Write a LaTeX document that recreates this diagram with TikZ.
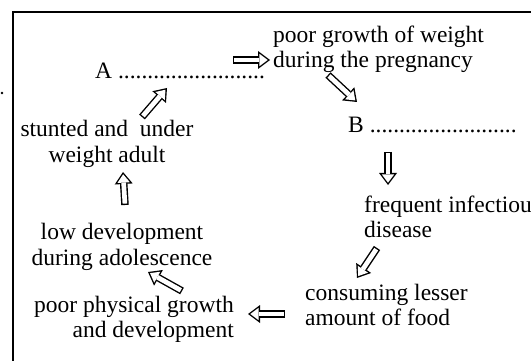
\documentclass[tikz,border=0pt]{standalone}
\usepackage{fontspec}
\setmainfont{Liberation Serif}
\usetikzlibrary{arrows.meta,calc}

\begin{document}
\begin{tikzpicture}[x=1pt, y=-1pt, inner sep=0pt, font=\fontsize{23.5}{25}\selectfont,
  flow/.style={line width=7.5pt, -{Triangle[length=12pt,width=18pt,line width=0pt]},
    postaction={draw=white, line width=4.7pt, shorten <=1.4pt, shorten >=2.3pt,
      -{Triangle[length=8.3pt,width=12.4pt,line width=0pt]}}}]
  \useasboundingbox (0,0) rectangle (531,361);
  \draw[line width=2pt] (13,361) -- (13,12) -- (531,12);
  \fill (2,93) circle (1.3pt);

  \node[anchor=base west] (aline) at (95,79) {A .........................};
  \node[anchor=base west, align=left] (growth) at (273,68) {poor growth of weight\\during the pregnancy};
  \node[anchor=base west] (bline) at (348,132) {B .........................};
  \node[anchor=base west, align=left] (infect) at (364,237) {frequent infectious\\disease};
  \node[anchor=base west, align=left] (food) at (305,325) {consuming lesser\\amount of food};
  \node[anchor=base east, align=right] (physical) at (234,337) {poor physical growth\\and development};
  \node[anchor=base, align=center] (adol) at (122,265) {low development\\during adolescence};
  \node[anchor=base, align=center] (stunted) at (107,162) {stunted and\ \ under\\weight adult};

  % the cycle
  \draw[flow] ($(aline.base west)+(138,-19)$) -- ($(growth.base west)+(-3,-8)$);
  \draw[flow] ($(growth.base west)+(55,7)$) -- ($(bline.base west)+(9,-30)$);
  \draw[flow] ($(bline.base west)+(40,20)$) -- ($(infect.base west)+(24,-52)$);
  \draw[flow] ($(infect.base west)+(13,11)$) -- ($(food.base west)+(52,-47)$);
  \draw[flow] ($(food.base west)+(-20,-11)$) -- ($(physical.base east)+(14,-23)$);
  \draw[flow] ($(physical.base east)+(-52,-46)$) -- ($(adol.base)+(26,7)$);
  \draw[flow] ($(adol.base)+(3,-60)$) -- ($(stunted.base)+(16,10)$);
  \draw[flow] ($(stunted.base)+(35,-45)$) -- ($(aline.base west)+(72,9)$);
\end{tikzpicture}
\end{document}
